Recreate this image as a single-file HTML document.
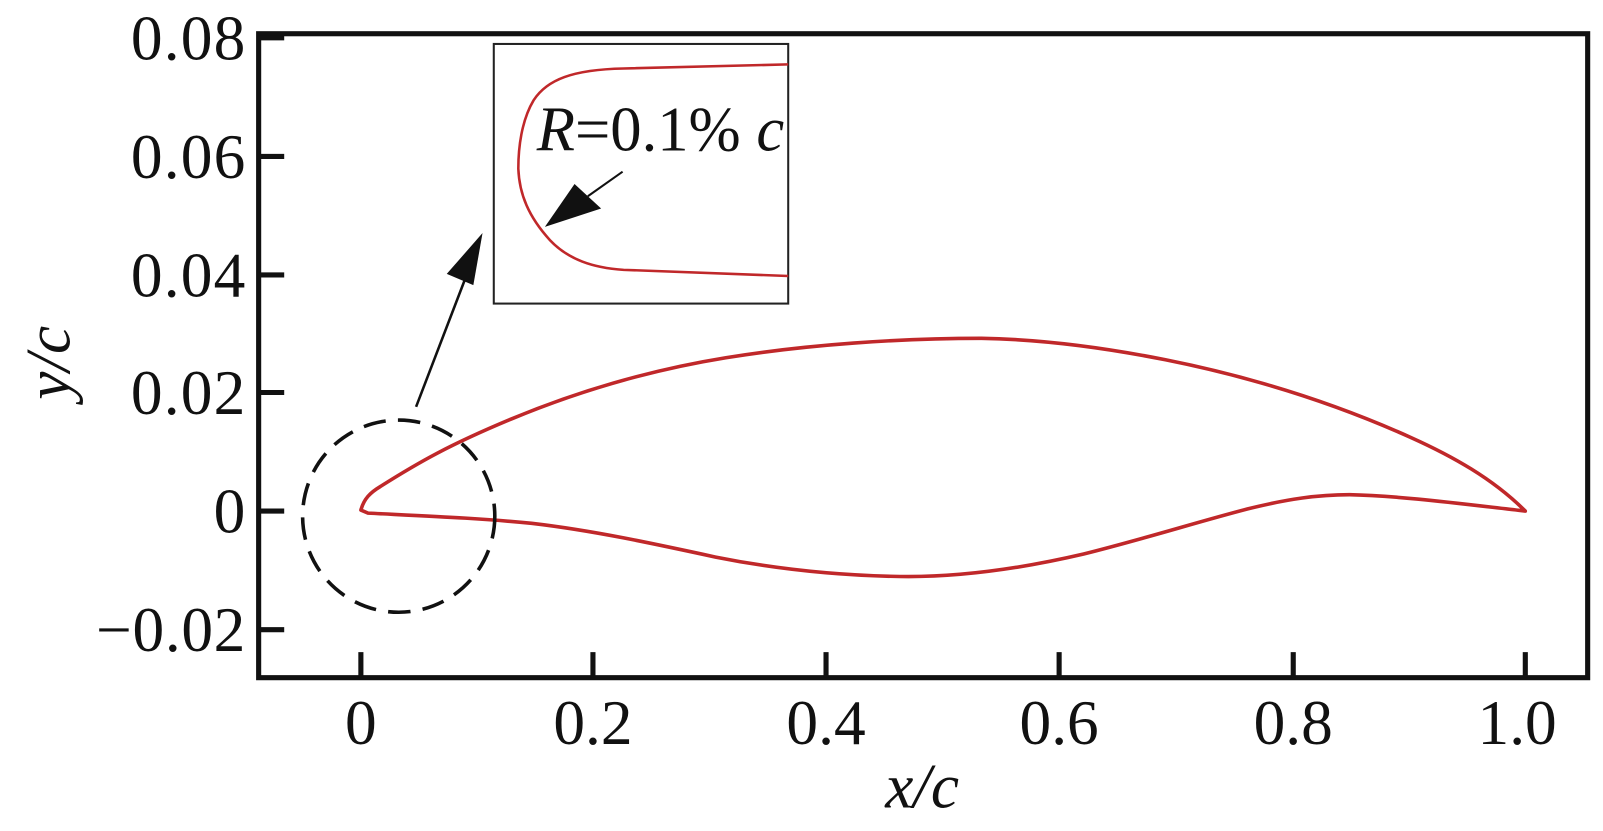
<!DOCTYPE html>
<html><head><meta charset="utf-8"><style>
html,body{margin:0;padding:0;background:#fff;}
svg{display:block;}
text{font-family:"Liberation Serif","Times New Roman",serif;fill:#111;}
</style></head><body>
<svg width="1603" height="831" viewBox="0 0 1568 813" preserveAspectRatio="none" xmlns="http://www.w3.org/2000/svg">
<rect x="253" y="33" width="1300" height="630" fill="none" stroke="#111" stroke-width="5"/>
<g stroke="#111" stroke-width="5">
<line x1="253" y1="37" x2="278" y2="37"/>
<line x1="253" y1="153" x2="278" y2="153"/>
<line x1="253" y1="269" x2="278" y2="269"/>
<line x1="253" y1="384" x2="278" y2="384"/>
<line x1="253" y1="500" x2="278" y2="500"/>
<line x1="253" y1="616" x2="278" y2="616"/>
<line x1="353" y1="663" x2="353" y2="638"/>
<line x1="580" y1="663" x2="580" y2="638"/>
<line x1="808" y1="663" x2="808" y2="638"/>
<line x1="1036" y1="663" x2="1036" y2="638"/>
<line x1="1265" y1="663" x2="1265" y2="638"/>
<line x1="1492" y1="663" x2="1492" y2="638"/>
</g>
<g font-size="62" text-anchor="end">
<text x="240" y="58" textLength="112">0.08</text>
<text x="240" y="174" textLength="112">0.06</text>
<text x="240" y="290" textLength="112">0.04</text>
<text x="240" y="405" textLength="112">0.02</text>
<text x="240" y="521">0</text>
<text x="240" y="637" textLength="146">−0.02</text>
</g>
<g font-size="62" text-anchor="middle">
<text x="353" y="728">0</text>
<text x="580" y="728">0.2</text>
<text x="808" y="728">0.4</text>
<text x="1036" y="728">0.6</text>
<text x="1265" y="728">0.8</text>
<text x="1484" y="728">1.0</text>
</g>
<text x="902" y="790" font-size="62" font-style="italic" text-anchor="middle">x/c</text>
<text transform="translate(68,355) rotate(-90)" font-size="62" font-style="italic" text-anchor="middle">y/c</text>
<path fill="none" stroke="#c0282a" stroke-width="3.5" stroke-linejoin="round"
d="M1492,500 C1460,468 1420,446 1380,428 C1300,392 1220,368 1140,352 C1080,340 1020,332 960,331 C880,331 790,337 710,350 C630,363 560,385 500,410 C440,435 410,452 372,476 C362,482 356,488 353,499 L360,502 C420,505 470,507 520,512 C580,519 640,532 700,545 C760,557 820,563 880,564 C940,565 1000,556 1060,542 C1120,527 1170,511 1220,498 C1260,488 1290,484 1320,484 C1370,485 1430,493 1492,500 Z"/>
<circle cx="390" cy="505" r="94" fill="none" stroke="#111" stroke-width="3.5" stroke-dasharray="22,12"/>
<line x1="407" y1="398" x2="458" y2="265" stroke="#111" stroke-width="2.5"/>
<polygon points="472,228 437,268 463,279" fill="#111"/>
<rect x="483" y="43" width="288" height="254" fill="#fff" stroke="#222" stroke-width="2"/>
<path fill="none" stroke="#c0282a" stroke-width="2.5"
d="M771,63 L610,67 C560,68 535,78 522,98 C510,118 507,145 507,165 C508,190 517,212 538,235 C556,254 580,262 610,264 L771,270"/>
<text x="525" y="147" font-size="62" textLength="242" lengthAdjust="spacingAndGlyphs"><tspan font-style="italic">R</tspan>=0.1% <tspan font-style="italic">c</tspan></text>
<line x1="609" y1="168" x2="575" y2="192" stroke="#111" stroke-width="2"/>
<polygon points="533,222 562,180 588,204" fill="#111"/>
</svg>
</body></html>
